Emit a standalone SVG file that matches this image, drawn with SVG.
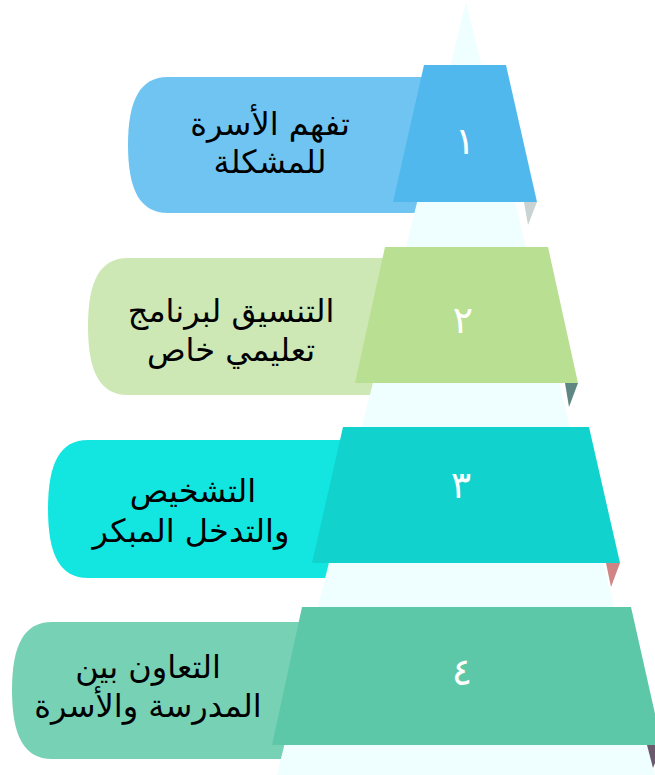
<svg xmlns="http://www.w3.org/2000/svg" width="655" height="775" viewBox="0 0 655 775">
<style>
.lbl{font-family:"DejaVu Sans","Noto Sans",sans-serif;font-size:32px;fill:#000;text-anchor:middle}
.num{font-family:"DejaVu Sans","Noto Sans",sans-serif;font-size:38px;fill:#fff;text-anchor:middle}
</style>
<rect width="655" height="775" fill="#fff"/>
<g id="labels">
<g id="label1"><path d="M168,77 H460 V213 H168 C140,213 128,190 128,145 C128,100 140,77 168,77 Z" fill="#6fc4f1"/></g>
<g id="label2"><path d="M128,258 H440 V395 H128 C100,395 88,372 88,326 C88,281 100,258 128,258 Z" fill="#cde7b5"/></g>
<g id="label3"><path d="M88,440 H420 V578 H88 C60,578 48,555 48,509 C48,463 60,440 88,440 Z" fill="#13e6e0"/></g>
<g id="label4"><path d="M52,622 H400 V759 H52 C24,759 12,736 12,690 C12,645 24,622 52,622 Z" fill="#77d1b5"/></g>
</g>
<g id="pyramid"><polygon points="466,2 277,775 655,775" fill="#effefe"/></g>
<g id="connectors"></g>
<g id="step1">
<polygon points="424,65 506,65 537,202 393,202" fill="#51b8ee"/>
<polygon points="524,202 537,202 528,225" fill="#c9d4d2"/>
<text class="num" x="465" y="154">١</text>
<text class="lbl" x="270" y="135">تفهم الأسرة</text>
<text class="lbl" x="270" y="173">للمشكلة</text>
</g>
<g id="step2">
<polygon points="385,247 548,247 578,383 355,383" fill="#b9df92"/>
<polygon points="565,383 578,383 569,407" fill="#5e8783"/>
<text class="num" x="463" y="333">٢</text>
<text class="lbl" x="231" y="322">التنسيق لبرنامج</text>
<text class="lbl" x="231" y="361">تعليمي خاص</text>
</g>
<g id="step3">
<polygon points="343,427 589,427 620,563 312,563" fill="#11d2cd"/>
<polygon points="606,563 620,563 611,587" fill="#d08585"/>
<text class="num" x="461" y="498">٣</text>
<text class="lbl" x="193" y="502">التشخيص</text>
<text class="lbl" x="191" y="542">والتدخل المبكر</text>
</g>
<g id="step4">
<polygon points="302,607 631,607 662,745 272,745" fill="#5cc8a8"/>
<polygon points="647,745 662,745 653,768" fill="#6b5a6e"/>
<text class="num" x="462" y="685">٤</text>
<text class="lbl" x="148" y="678">التعاون بين</text>
<text class="lbl" x="148" y="717">المدرسة والأسرة</text>
</g>
</svg>
